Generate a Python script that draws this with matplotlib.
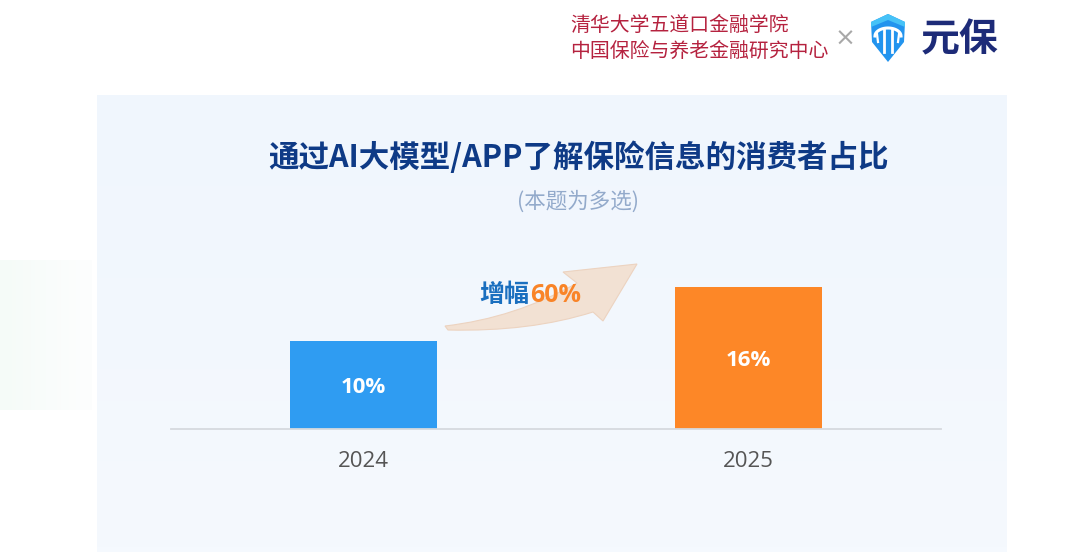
import matplotlib
matplotlib.use("Agg")
import matplotlib.pyplot as plt
import numpy as np
from matplotlib.path import Path
from matplotlib.patches import PathPatch, Rectangle

plt.rcParams['font.family'] = ['Noto Sans CJK SC', 'DejaVu Sans']

categories = ["2024", "2025"]
values = [10, 16]
value_labels = ["10%", "16%"]
bar_colors = ["#2f9cf2", "#fd8727"]
title = "通过AI大模型/APP了解保险信息的消费者占比"
subtitle = "(本题为多选)"
growth_label = "增幅"
growth_value = "60%"
header_line1 = "清华大学五道口金融学院"
header_line2 = "中国保险与养老金融研究中心"
brand = "元保"

W, H = 1069, 552
fig = plt.figure(figsize=(W / 100, H / 100), dpi=100)
fig.patch.set_facecolor("white")


def px(x, y):
    return (x / W, 1 - y / H)


# background panel with soft vertical gradient
bg = fig.add_axes([0, 0, 1, 1], zorder=0)
bg.axis("off")
grad = np.linspace(0, 1, 100).reshape(-1, 1)
top = np.array([0xf0, 0xf6, 0xfd]) / 255
bot = np.array([0xf5, 0xf9, 0xfe]) / 255
img = top[None, None, :] * (1 - grad[:, :, None]) + bot[None, None, :] * grad[:, :, None]
bg.imshow(img, extent=[97, 1007, 552, 95], aspect="auto", zorder=0)
hg = np.linspace(0, 1, 100).reshape(1, -1)
g0 = np.array([0xf5, 0xfb, 0xf8]) / 255
g1 = np.array([0xfd, 0xfe, 0xfe]) / 255
gimg = g0[None, None, :] * (1 - hg[:, :, None]) + g1[None, None, :] * hg[:, :, None]
bg.imshow(gimg, extent=[0, 92, 410, 260], aspect="auto", zorder=0)
bg.set_xlim(0, W)
bg.set_ylim(H, 0)

# growth arrow (decorative)
verts = [
    (445, 326),
    (515, 318), (577, 283),
    (563, 272),
    (637, 264),
    (603, 321),
    (593, 312),
    (530, 332), (448, 330),
    (445, 326),
]
codes = [Path.MOVETO, Path.CURVE3, Path.CURVE3, Path.LINETO, Path.LINETO,
         Path.LINETO, Path.LINETO, Path.CURVE3, Path.CURVE3, Path.CLOSEPOLY]
bg.add_patch(PathPatch(Path(verts, codes), facecolor="#f2e1d3", edgecolor="#ecd3c0",
                       lw=0.8, zorder=1))

# logo shield
shield = [(871, 22), (888, 14), (905, 22), (904, 42), (888, 62), (872, 42), (871, 22)]
bg.add_patch(PathPatch(Path(shield), facecolor="#2394ee", edgecolor="none", zorder=2))
bg.add_patch(PathPatch(Path([(871, 22), (888, 14), (905, 22), (905, 27), (888, 20), (871, 27), (871, 22)]),
                       facecolor="#46c2f7", edgecolor="none", zorder=3))
arc_t = np.linspace(0, np.pi, 30)
bg.plot(888 + 13 * np.cos(arc_t), 36 - 8 * np.sin(arc_t), color="white", lw=2.2, zorder=4)
bg.plot([884, 884], [30, 52], color="white", lw=2, zorder=4)
bg.plot([892, 892], [30, 52], color="white", lw=2, zorder=4)
bg.plot([877, 878], [34, 42], color="white", lw=1.6, zorder=4)
bg.plot([899, 898], [34, 42], color="white", lw=1.6, zorder=4)

# header texts
fig.text(*px(570, 25), header_line1, color="#b5223f", fontsize=14.3, va="center", ha="left")
fig.text(*px(570, 51), header_line2, color="#b5223f", fontsize=14.3, va="center", ha="left")
fig.text(*px(845, 39), "×", color="#a8a8a8", fontsize=18, va="center", ha="center",
         family=["DejaVu Sans"])
fig.text(*px(960, 40), brand, color="#1d2b78", fontsize=28, fontweight="bold",
         va="center", ha="center")

# titles
fig.text(*px(578, 158), title, color="#0e3a86", fontsize=22, fontweight="bold",
         va="center", ha="center")
fig.text(*px(578, 202), subtitle, color="#93aacb", fontsize=15.5, va="center", ha="center")

# growth text
fig.text(*px(479, 295), growth_label, color="#1a6fbf", fontsize=18, fontweight="bold",
         va="center", ha="left")
fig.text(*px(530, 295), growth_value, color="#f98428", fontsize=18, fontweight="bold",
         va="center", ha="left", family=["Open Sans", "DejaVu Sans"])

# bar axes
ax_left, ax_right = 171, 941
ax_bottom, ax_top = 429, 229
ax = fig.add_axes([ax_left / W, 1 - ax_bottom / H, (ax_right - ax_left) / W,
                   (ax_bottom - ax_top) / H], zorder=2)
ax.patch.set_alpha(0)
x = np.arange(len(categories))
bars = ax.bar(x, values, width=0.384, color=bar_colors, zorder=2)
ax.set_xlim(-0.5, 1.5)
ax.set_ylim(0, 200 / 8.85)
for b, lab in zip(bars, value_labels):
    ax.annotate(lab, (b.get_x() + b.get_width() / 2, b.get_height() / 2),
                xytext=(0, -2), textcoords="offset points", color="white",
                fontsize=16, fontweight="bold", ha="center", va="center",
                family=["Open Sans", "DejaVu Sans"])
ax.set_xticks(x)
ax.set_xticklabels(categories, fontsize=16, color="#555555", family=["Open Sans", "DejaVu Sans"])
ax.tick_params(axis="x", length=0, pad=16)
ax.set_yticks([])
for s in ["top", "left", "right"]:
    ax.spines[s].set_visible(False)
ax.spines["bottom"].set_color("#d6d9de")
ax.spines["bottom"].set_linewidth(1.3)

fig.savefig("out.png", dpi=100, facecolor="white")
